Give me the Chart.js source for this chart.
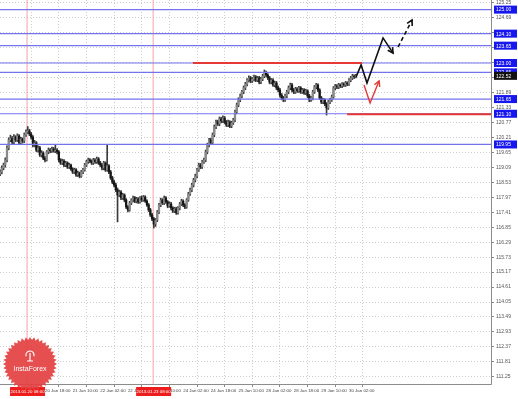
<!DOCTYPE html>
<html><head><meta charset="utf-8">
<script src="https://cdn.jsdelivr.net/npm/chart.js@4.4.1/dist/chart.umd.min.js"></script>
<style>html,body{margin:0;padding:0;background:#fff;overflow:hidden}canvas{display:block}</style>
</head><body>
<canvas id="c" width="518" height="399"></canvas>
<script>
// ---- data (hourly candles, bar index 0..206) ----
const opens=[
118.85,118.92,119.07,119.18,119.37,119.82,120.12,120.19,120.04,120.23,
120.12,120.27,120.01,120.16,120.08,120.31,120.42,120.46,120.34,120.23,
119.93,120.01,119.74,119.82,119.56,119.63,119.44,119.37,119.67,119.74,
119.71,119.78,119.71,119.74,119.67,119.37,119.26,119.33,119.18,119.26,
119.11,119.18,119.03,118.92,119.00,118.81,118.88,118.77,118.92,119.00,
119.18,119.30,119.37,119.33,119.26,119.37,119.30,119.41,119.26,119.18,
119.07,119.26,119.00,119.15,118.92,118.70,118.55,118.43,118.25,118.06,
118.17,117.95,118.06,117.87,117.61,117.50,117.76,117.87,117.95,117.83,
117.91,117.80,117.95,117.87,117.98,117.83,117.69,117.50,117.31,117.16,
116.97,117.12,117.42,117.69,117.87,117.76,117.95,117.80,117.65,117.72,
117.57,117.46,117.54,117.39,117.57,117.72,117.83,117.69,117.61,117.87,
118.10,118.25,118.43,118.62,118.77,119.00,119.18,119.11,119.30,119.37,
119.67,119.93,120.12,120.01,120.31,120.61,120.79,120.72,120.91,120.83,
120.94,120.79,120.68,120.79,120.64,120.76,120.87,121.17,121.43,121.62,
121.77,121.92,122.07,122.21,122.36,122.44,122.33,122.40,122.48,122.36,
122.44,122.29,122.40,122.51,122.63,122.55,122.44,122.29,122.36,122.18,
122.25,122.07,121.99,121.80,121.69,121.62,121.77,121.92,122.07,122.18,
121.99,121.92,122.03,121.96,122.07,121.92,121.99,121.88,121.96,121.77,
121.62,121.69,121.92,122.10,122.18,121.99,121.69,121.54,121.62,121.47,
121.32,121.54,121.62,121.73,122.07,122.14,122.10,122.18,122.14,122.21,
122.18,122.25,122.21,122.36,122.44,122.51,122.48];
const highs=[
119.00,119.15,119.25,119.45,119.90,120.20,120.30,120.25,120.32,120.28,
120.35,120.32,120.22,120.20,120.38,120.50,120.62,120.52,120.40,120.28,
120.10,120.06,119.90,119.88,119.72,119.68,119.50,119.72,119.82,119.80,
119.85,119.84,119.93,119.80,119.72,119.42,119.40,119.38,119.32,119.30,
119.25,119.22,119.08,119.06,119.05,118.95,118.92,118.98,119.06,119.24,
119.36,119.44,119.42,119.38,119.43,119.42,119.48,119.46,119.32,119.24,
119.32,119.30,119.93,119.20,118.98,118.76,118.62,118.50,118.32,118.24,
118.22,118.12,118.10,117.92,117.66,117.82,117.92,118.02,118.00,117.97,
117.96,118.00,118.02,118.04,118.03,117.88,117.74,117.56,117.37,117.22,
117.18,117.48,117.75,117.94,117.92,118.02,118.00,117.85,117.80,117.78,
117.62,117.60,117.60,117.62,117.78,117.90,117.88,117.74,117.92,118.16,
118.32,118.50,118.68,118.84,119.06,119.25,119.24,119.36,119.44,119.74,
120.00,120.18,120.18,120.38,120.68,120.86,120.86,120.98,120.97,121.02,
121.00,120.85,120.86,120.84,120.82,120.93,121.24,121.50,121.70,121.84,
121.98,122.14,122.28,122.42,122.52,122.50,122.46,122.55,122.53,122.50,
122.50,122.46,122.58,122.74,122.70,122.60,122.50,122.42,122.42,122.32,
122.31,122.14,122.05,121.86,121.75,121.84,121.98,122.14,122.25,122.24,
122.05,122.09,122.08,122.13,122.12,122.05,122.04,122.02,122.00,121.83,
121.75,121.98,122.16,122.24,122.22,122.04,121.75,121.68,121.66,121.52,
121.60,121.68,121.80,122.12,122.20,122.19,122.24,122.22,122.27,122.26,
122.31,122.30,122.42,122.50,122.58,122.56,122.58];
const lows=[
118.78,118.85,119.00,119.10,119.30,119.75,120.05,119.98,119.98,120.05,
120.06,119.95,119.96,120.00,120.02,120.25,120.36,120.28,120.15,119.86,
119.86,119.68,119.66,119.50,119.48,119.38,119.30,119.33,119.60,119.64,
119.65,119.66,119.64,119.60,119.30,119.20,119.20,119.12,119.12,119.05,
119.05,118.98,118.86,118.86,118.75,118.75,118.70,118.72,118.86,118.95,
119.12,119.24,119.27,119.20,119.20,119.24,119.24,119.20,119.12,119.00,
119.00,118.94,118.95,118.86,118.64,118.48,118.36,118.18,117.05,118.00,
117.88,117.89,117.80,117.55,117.42,117.45,117.70,117.80,117.77,117.76,
117.74,117.75,117.80,117.82,117.78,117.63,117.44,117.25,117.10,116.82,
116.88,117.06,117.36,117.62,117.70,117.70,117.74,117.58,117.60,117.50,
117.40,117.40,117.33,117.34,117.50,117.66,117.62,117.55,117.56,117.82,
118.04,118.18,118.36,118.55,118.70,118.94,119.04,119.05,119.24,119.30,
119.60,119.86,119.95,119.95,120.24,120.54,120.66,120.65,120.76,120.77,
120.72,120.62,120.62,120.58,120.58,120.70,120.80,121.10,121.36,121.55,
121.70,121.85,122.00,122.14,122.29,122.26,122.27,122.33,122.30,122.30,
122.22,122.23,122.34,122.45,122.48,122.38,122.22,122.22,122.12,122.11,
122.00,121.92,121.72,121.62,121.55,121.56,121.70,121.85,122.00,121.92,
121.85,121.86,121.90,121.90,121.86,121.86,121.82,121.82,121.70,121.55,
121.56,121.62,121.86,122.04,121.93,121.63,121.48,121.48,121.40,121.05,
121.26,121.48,121.56,121.68,122.00,122.04,122.04,122.08,122.08,122.12,
122.12,122.15,122.16,122.30,122.38,122.42,122.44];
const closes=[
118.92,119.07,119.18,119.37,119.82,120.12,120.19,120.04,120.23,120.12,
120.27,120.01,120.16,120.08,120.31,120.42,120.46,120.34,120.23,119.93,
120.01,119.74,119.82,119.56,119.63,119.44,119.37,119.67,119.74,119.71,
119.78,119.71,119.74,119.67,119.37,119.26,119.33,119.18,119.26,119.11,
119.18,119.03,118.92,119.00,118.81,118.88,118.77,118.92,119.00,119.18,
119.30,119.37,119.33,119.26,119.37,119.30,119.41,119.26,119.18,119.07,
119.26,119.00,119.15,118.92,118.70,118.55,118.43,118.25,118.06,118.17,
117.95,118.06,117.87,117.61,117.50,117.76,117.87,117.95,117.83,117.91,
117.80,117.95,117.87,117.98,117.83,117.69,117.50,117.31,117.16,116.97,
117.12,117.42,117.69,117.87,117.76,117.95,117.80,117.65,117.72,117.57,
117.46,117.54,117.39,117.57,117.72,117.83,117.69,117.61,117.87,118.10,
118.25,118.43,118.62,118.77,119.00,119.18,119.11,119.30,119.37,119.67,
119.93,120.12,120.01,120.31,120.61,120.79,120.72,120.91,120.83,120.94,
120.79,120.68,120.79,120.64,120.76,120.87,121.17,121.43,121.62,121.77,
121.92,122.07,122.21,122.36,122.44,122.33,122.40,122.48,122.36,122.44,
122.29,122.40,122.51,122.63,122.55,122.44,122.29,122.36,122.18,122.25,
122.07,121.99,121.80,121.69,121.62,121.77,121.92,122.07,122.18,121.99,
121.92,122.03,121.96,122.07,121.92,121.99,121.88,121.96,121.77,121.62,
121.69,121.92,122.10,122.18,121.99,121.69,121.54,121.62,121.47,121.32,
121.54,121.62,121.73,122.07,122.14,122.10,122.18,122.14,122.21,122.18,
122.25,122.21,122.36,122.44,122.51,122.48,122.52];

const yTickValues=[125.25,124.69,124.13,123.57,123.01,122.45,121.89,121.33,120.77,120.21,
119.65,119.09,118.53,117.97,117.41,116.85,116.29,115.73,115.17,114.61,114.05,113.49,112.93,112.37,111.81,111.25];
const xTickIndex=[26,42,58,74,90,106,122,138,154,170,186,202];
const xTickLabels=['20 Jan 18:00','21 Jan 10:00','22 Jan 02:00','22 Jan 18:00','23 Jan 10:00','24 Jan 02:00',
'24 Jan 18:00','25 Jan 10:00','28 Jan 02:00','28 Jan 18:00','29 Jan 10:00','30 Jan 02:00'];
const blueLevels=[125.00,124.10,123.65,123.00,122.65,121.65,121.10,119.95];
const redLevelUpper={from:111.7,to:209.6,value:123.00};
const redLevelLower={from:200.9,to:290,value:121.08};
const vLines=[{x:15.6,label:'2013.01.20 08:00'},{x:88.6,label:'2013.01.23 08:00'}];
const forecastSolid=[[206.1,122.48],[209.0,122.93],[212.4,122.25],[221.7,123.94],[227.5,123.37]];
const forecastDashed=[[230.4,123.60],[238.5,124.61]];
const forecastAlt=[[210.7,122.18],[214.2,121.50],[219.4,122.33]];
const yMin=110.98, yMax=125.36, xMin=-0.05, xMax=284.2;

// ---- build ----
const FONT='"Liberation Sans", Arial, sans-serif';
const bodies=closes.map((c,i)=>({x:i,y:[opens[i],c]}));
const wicks=closes.map((c,i)=>({x:i,y:[lows[i],highs[i]]}));
const bodyColors=closes.map((c,i)=>c>=opens[i]?'#8a8a8a':'#151515');
const pts=a=>a.map(p=>({x:p[0],y:p[1]}));

const datasets=[
  {type:'bar',data:bodies,backgroundColor:bodyColors,borderWidth:0,barThickness:1.6,grouped:false,order:2},
  {type:'bar',data:wicks,backgroundColor:'#3a3a3a',barThickness:1,grouped:false,order:3},
];
blueLevels.forEach(v=>datasets.push({type:'line',data:[{x:-5,y:v},{x:300,y:v}],borderColor:'#7373f0',borderWidth:1.2,pointRadius:0,order:1}));
[redLevelUpper,redLevelLower].forEach(r=>datasets.push({type:'line',data:[{x:r.from,y:r.value},{x:r.to,y:r.value}],borderColor:'#e53935',borderWidth:2,pointRadius:0,order:0}));
vLines.forEach(v=>datasets.push({type:'line',data:[{x:v.x,y:yMin-1},{x:v.x,y:yMax+1}],borderColor:'#f4a3a3',borderWidth:1,pointRadius:0,order:4}));
datasets.push({type:'line',data:pts(forecastSolid),borderColor:'#111',borderWidth:1.6,pointRadius:0,order:0,arrow:true,tension:0});
datasets.push({type:'line',data:pts(forecastDashed),borderColor:'#111',borderWidth:1.6,borderDash:[4,3],pointRadius:0,order:0,arrow:true});
datasets.push({type:'line',data:pts(forecastAlt),borderColor:'#e53935',borderWidth:1.4,pointRadius:0,order:0,arrow:true});

const decor={
  id:'decor',
  afterDatasetsDraw(chart){
    const ctx=chart.ctx;
    chart.data.datasets.forEach((ds,di)=>{
      if(!ds.arrow) return;
      const p=chart.getDatasetMeta(di).data; const n=p.length;
      const a=p[n-2], b=p[n-1];
      const ang=Math.atan2(b.y-a.y,b.x-a.x), L=6;
      ctx.save(); ctx.strokeStyle=ds.borderColor; ctx.lineWidth=ds.borderWidth; ctx.setLineDash([]);
      ctx.beginPath();
      ctx.moveTo(b.x-L*Math.cos(ang-0.5),b.y-L*Math.sin(ang-0.5));
      ctx.lineTo(b.x,b.y);
      ctx.lineTo(b.x-L*Math.cos(ang+0.5),b.y-L*Math.sin(ang+0.5));
      ctx.stroke(); ctx.restore();
    });
  },
  afterDraw(chart){
    const {ctx,chartArea:ca,scales:{x,y}}=chart;
    ctx.save();
    ctx.strokeStyle='#8c8c8c'; ctx.lineWidth=1; ctx.setLineDash([]);
    ctx.beginPath(); ctx.moveTo(ca.right+0.5,0); ctx.lineTo(ca.right+0.5,ca.bottom+0.5); ctx.lineTo(0,ca.bottom+0.5); ctx.stroke();
    ctx.font='5px '+FONT; ctx.textBaseline='middle'; ctx.textAlign='left';
    blueLevels.forEach(v=>{
      const py=y.getPixelForValue(v);
      ctx.fillStyle='#1616ee'; ctx.fillRect(ca.right+3,py-4,23,8);
      ctx.fillStyle='#fff'; ctx.fillText(v.toFixed(2),ca.right+5,py+0.5);
    });
    const last=closes[closes.length-1], py=y.getPixelForValue(last);
    ctx.fillStyle='#111'; ctx.fillRect(ca.right+3,py-4,23,8);
    ctx.fillStyle='#fff'; ctx.fillText(last.toFixed(2),ca.right+5,py+0.5);
    ctx.textAlign='center'; ctx.font='4.4px '+FONT;
    vLines.forEach(v=>{
      const px=x.getPixelForValue(v.x);
      ctx.fillStyle='#ee1d1d'; ctx.fillRect(px-17,ca.bottom+3,35,9);
      ctx.fillStyle='#fff'; ctx.fillText(v.label,px+0.5,ca.bottom+7.5);
    });
    // InstaForex badge
    const cx=30, cy=364, R=27, r=24, N=40;
    ctx.beginPath();
    for(let k=0;k<2*N;k++){const rr=k%2?r:R, a=Math.PI*k/N; const X=cx+rr*Math.cos(a), Y=cy+rr*Math.sin(a); k?ctx.lineTo(X,Y):ctx.moveTo(X,Y);}
    ctx.closePath(); ctx.fillStyle='rgba(228,64,64,0.92)'; ctx.fill();
    ctx.strokeStyle='#fff'; ctx.lineWidth=1.2;
    ctx.beginPath(); ctx.arc(cx,cy-9,4,Math.PI*0.9,Math.PI*2.1); ctx.stroke();
    ctx.beginPath(); ctx.moveTo(cx,cy-11); ctx.lineTo(cx,cy-3); ctx.moveTo(cx-3,cy-3); ctx.lineTo(cx+3,cy-3); ctx.stroke();
    ctx.fillStyle='#fff'; ctx.font='7px '+FONT; ctx.textAlign='center';
    ctx.fillText('InstaForex',cx,cy+5);
    ctx.restore();
  }
};

new Chart(document.getElementById('c'),{
  type:'bar',
  data:{datasets},
  options:{
    responsive:false,animation:false,events:[],devicePixelRatio:1,
    layout:{padding:0},
    plugins:{legend:{display:false},tooltip:{enabled:false}},
    scales:{
      x:{type:'linear',min:xMin,max:xMax,offset:false,
        afterBuildTicks(s){s.ticks=xTickIndex.map(v=>({value:v}));},
        afterFit(s){s.height=15;s.paddingLeft=0;s.paddingRight=0;},
        ticks:{autoSkip:false,maxRotation:0,align:'start',padding:1,font:{size:4.4,family:FONT},color:'#444',
          callback:(v)=>{const k=xTickIndex.indexOf(v);return k<0?'':xTickLabels[k];}},
        grid:{color:'#cdcdcd',tickColor:'#888',tickLength:3,tickBorderDash:[3,0]},
        border:{display:false,dash:[1,2]}},
      y:{type:'linear',position:'right',min:yMin,max:yMax,
        afterBuildTicks(s){s.ticks=yTickValues.map(v=>({value:v}));},
        afterFit(s){s.width=27;s.paddingTop=0;s.paddingBottom=0;},
        ticks:{autoSkip:false,padding:2,font:{size:5,family:FONT},color:'#555',callback:v=>Number(v).toFixed(2)},
        grid:{color:'#cdcdcd',tickColor:'#888',tickLength:3,tickBorderDash:[3,0]},
        border:{display:false,dash:[1,2]}}
    }
  },
  plugins:[decor]
});
</script>
</body></html>
